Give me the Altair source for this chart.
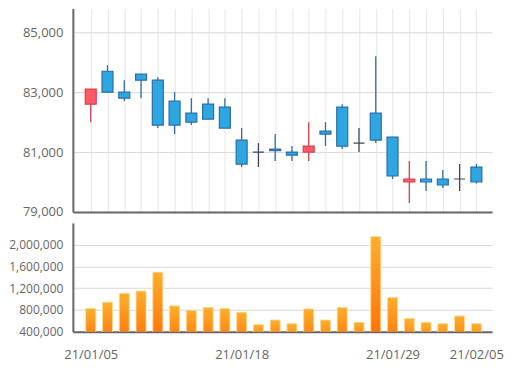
import altair as alt
import pandas as pd

dates = ["21/01/05", "21/01/06", "21/01/07", "21/01/08", "21/01/11", "21/01/12",
         "21/01/13", "21/01/14", "21/01/15", "21/01/18", "21/01/19", "21/01/20",
         "21/01/21", "21/01/22", "21/01/25", "21/01/26", "21/01/27", "21/01/28",
         "21/01/29", "21/02/01", "21/02/02", "21/02/03", "21/02/04", "21/02/05"]
opens = [82600, 83700, 83000, 83600, 83400, 82700, 82300, 82600, 82500, 81400, 81000, 81100,
         81000, 81000, 81700, 82500, 81300, 82300, 81500, 80000, 80100, 80100, 80100, 80500]
highs = [83100, 83900, 83400, 83600, 83500, 83000, 82800, 82800, 82800, 81800, 81300, 81600,
         81200, 82000, 82000, 82600, 81800, 84200, 81500, 80700, 80700, 80400, 80600, 80600]
lows = [82000, 83000, 82700, 82800, 81800, 81600, 81900, 82100, 81800, 80500, 80500, 80700,
        80700, 80700, 81200, 81100, 81000, 81300, 80100, 79300, 79700, 79800, 79700, 79950]
closes = [83100, 83000, 82800, 83400, 81900, 81900, 82000, 82100, 81800, 80600, 81000, 81050,
          80900, 81200, 81600, 81200, 81300, 81400, 80200, 80100, 80000, 79900, 80100, 80000]
volumes = [826000, 943000, 1105000, 1147000, 1494000, 875000, 795000, 845000, 826000, 758000,
           530000, 615000, 548000, 819000, 615000, 845000, 572000, 2148000, 1030000, 641000,
           572000, 548000, 689000, 548000]
price_ticks = [79000, 81000, 83000, 85000]
volume_ticks = [400000, 800000, 1200000, 1600000, 2000000]
date_labels = ["21/01/05", "21/01/18", "21/01/29", "21/02/05"]

df = pd.DataFrame({"date": dates, "open": opens, "high": highs, "low": lows,
                   "close": closes, "volume": volumes})
df["dir"] = ["up" if c > o else ("down" if c < o else "flat") for o, c in zip(opens, closes)]

W = 420
LABEL_COLOR = "#666666"
AXIS_COLOR = "#666666"

x_scale = alt.Scale(type="point", padding=1.254, align=0.533)

dir_dom = ["up", "down", "flat"]
fill_scale = alt.Scale(domain=dir_dom, range=["#ff5a68", "#2ea6e2", "#3b4a5e"])
stroke_scale = alt.Scale(domain=dir_dom, range=["#d9404f", "#2b6ea6", "#3b4a5e"])

x_top = alt.X("date:N", sort=None, scale=x_scale,
              axis=alt.Axis(labels=False, ticks=False, grid=True, gridColor="#e6e6e6",
                            domainColor=AXIS_COLOR, domainWidth=2, title=None,
                            minExtent=0, maxExtent=0))
y_top_scale = alt.Scale(domain=[79000, 85800], nice=False, zero=False)
y_top_axis = alt.Axis(values=price_ticks, format=",.0f", ticks=False, grid=True,
                      gridColor="#d9d9d9", domainColor=AXIS_COLOR, domainWidth=2,
                      labelColor=LABEL_COLOR, labelFontSize=13, labelPadding=10,
                      title=None, minExtent=64, maxExtent=64)

base = alt.Chart(df)
wick = base.mark_rule(strokeWidth=1.3).encode(
    x=x_top,
    y=alt.Y("low:Q", scale=y_top_scale, axis=y_top_axis),
    y2="high:Q",
    color=alt.Color("dir:N", scale=stroke_scale, legend=None),
)
body = base.mark_bar(size=11, strokeWidth=1.2).encode(
    x=x_top,
    y=alt.Y("open:Q", scale=y_top_scale, axis=y_top_axis),
    y2="close:Q",
    fill=alt.Fill("dir:N", scale=fill_scale, legend=None),
    stroke=alt.Stroke("dir:N", scale=stroke_scale, legend=None),
)
top = alt.layer(wick, body).properties(width=W, height=204)

x_bot = alt.X("date:N", sort=None, scale=x_scale,
              axis=alt.Axis(values=date_labels, ticks=False, tickSize=0, grid=False,
                            domainColor=AXIS_COLOR, domainWidth=2, labelColor=LABEL_COLOR,
                            labelFontSize=13, labelPadding=17, labelAngle=0, title=None))
gradient = alt.Gradient(gradient="linear",
                        stops=[alt.GradientStop(color="#fdae2c", offset=0),
                               alt.GradientStop(color="#ff6600", offset=1)],
                        x1=0, x2=0, y1=0, y2=1)
vol = base.mark_bar(size=10, color=gradient, stroke="#ffd990", strokeWidth=0.8,
                    clip=True).encode(
    x=x_bot,
    y=alt.Y("volume:Q", scale=alt.Scale(domain=[400000, 2400000], nice=False, zero=False),
            axis=alt.Axis(values=volume_ticks, format=",.0f", ticks=False, grid=True,
                          gridColor="#d9d9d9", domainColor=AXIS_COLOR, domainWidth=2,
                          labelColor=LABEL_COLOR, labelFontSize=12, labelPadding=10,
                          title=None, minExtent=64, maxExtent=64)),
).properties(width=W, height=109)

chart = alt.vconcat(top, vol, spacing=11, bounds="flush").properties(
    padding=0
).configure(font="Open Sans").configure_view(stroke="transparent", strokeWidth=0)

chart.save("out.html", embed_options={"renderer": "svg", "actions": False})
